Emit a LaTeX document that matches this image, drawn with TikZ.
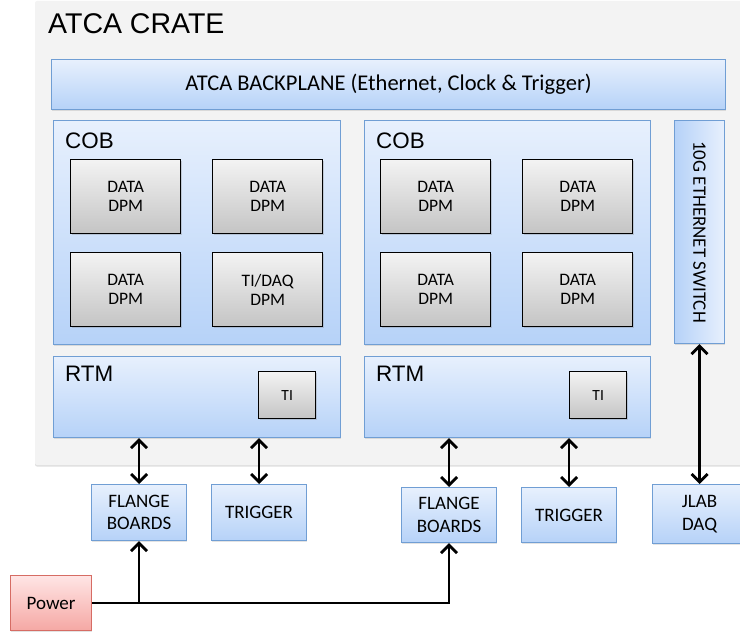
\documentclass[tikz,border=0pt]{standalone}
\usepackage{fontspec}
\usepackage{graphicx}
\setmainfont{Carlito}
\newfontfamily\arialfont{Liberation Sans}
\usetikzlibrary{arrows.meta,shadows}

\definecolor{crateFill}{RGB}{243,243,243}
\definecolor{blueTop}{RGB}{231,240,253}
\definecolor{blueBot}{RGB}{182,210,248}
\definecolor{blueEdge}{RGB}{112,158,212}
\definecolor{grayTop}{RGB}{243,243,243}
\definecolor{grayBot}{RGB}{196,196,196}
\definecolor{redTop}{RGB}{255,229,229}
\definecolor{redBot}{RGB}{245,168,164}
\definecolor{redEdge}{RGB}{214,108,100}

\begin{document}
\begin{tikzpicture}[x=1pt,y=1pt,
  softshadow/.style={drop shadow={shadow xshift=0.8pt,shadow yshift=-1.4pt,opacity=0.22}},
  bluebox/.style={draw=blueEdge, line width=1.1pt, top color=blueTop, bottom color=blueBot,
    inner sep=0pt, anchor=north west, align=center, softshadow},
  dpmbox/.style={draw=black, line width=1.4pt, top color=grayTop, bottom color=grayBot,
    inner sep=0pt, anchor=north west, align=center, minimum width=110pt, minimum height=74pt,
    font=\fontsize{17.5}{19}\selectfont, drop shadow={shadow xshift=1pt,shadow yshift=-1.6pt,opacity=0.3}},
  tibox/.style={dpmbox, minimum width=57pt, minimum height=47pt, font=\fontsize{15.5}{16}\selectfont},
  extbox/.style={bluebox, font=\fontsize{19}{22.5}\selectfont},
  bigtitle/.style={anchor=base west, inner sep=0pt, font=\arialfont\fontsize{22.4}{22}\selectfont},
  conn/.style={line width=2.8pt, line join=miter},
  >={Straight Barb[length=8pt,width=16pt,line width=2.8pt]}
]
\useasboundingbox (0,0) rectangle (740,-634);
\clip (0,0) rectangle (740,-634);

% crate enclosure
\path[fill=crateFill, rounded corners=2pt,
  drop shadow={shadow xshift=0pt,shadow yshift=-1.5pt,opacity=0.25}]
  (35,-1) rectangle (780,-465);
\node[anchor=base west, inner sep=0pt, font=\arialfont\fontsize{28.5}{28}\selectfont]
  (crate) at (48,-34) {ATCA CRATE};

% backplane
\node[bluebox, minimum width=674pt, minimum height=50pt, font=\fontsize{22.5}{24}\selectfont]
  (bp) at (51,-59) {ATCA BACKPLANE (Ethernet, Clock \& Trigger)};

% carrier boards
\node[bluebox, minimum width=287pt, minimum height=224pt] (cobA) at (53,-120) {};
\node[bluebox, minimum width=286pt, minimum height=224pt] (cobB) at (364,-120) {};
\node[bigtitle] (cobAlabel) at (65,-148) {COB};
\node[bigtitle] (cobBlabel) at (376,-148) {COB};

\node[dpmbox] (a1) at (70,-159)  {DATA\\DPM};
\node[dpmbox] (a2) at (212,-159) {DATA\\DPM};
\node[dpmbox] (a3) at (70,-252)  {DATA\\DPM};
\node[dpmbox] (a4) at (212,-252) {TI/DAQ\\DPM};
\node[dpmbox] (b1) at (380,-159) {DATA\\DPM};
\node[dpmbox] (b2) at (522,-159) {DATA\\DPM};
\node[dpmbox] (b3) at (380,-252) {DATA\\DPM};
\node[dpmbox] (b4) at (522,-252) {DATA\\DPM};

% ethernet switch (vertical), shaded from left to right
\node[draw=blueEdge, line width=1.1pt, left color=blueBot, right color=blueTop, inner sep=0pt,
  anchor=north west, minimum width=50pt, minimum height=223pt, softshadow,
  font=\fontsize{19}{20}\selectfont] (sw) at (674,-120) {\rotatebox{-90}{10G ETHERNET SWITCH}};

% rear transition modules
\node[bluebox, minimum width=287pt, minimum height=81pt] (rtmA) at (53,-356) {};
\node[bluebox, minimum width=286pt, minimum height=81pt] (rtmB) at (364,-356) {};
\node[bigtitle] (rtmAlabel) at (65,-381) {RTM};
\node[bigtitle] (rtmBlabel) at (376,-381) {RTM};
\node[tibox] (tiA) at (258,-371) {TI};
\node[tibox] (tiB) at (569,-371) {TI};

% external boards
\node[extbox, minimum width=95pt, minimum height=56pt] (flA) at (91,-484)  {FLANGE\\BOARDS};
\node[extbox, minimum width=95pt, minimum height=56pt] (trA) at (211,-484) {TRIGGER};
\node[extbox, minimum width=95pt, minimum height=55pt] (flB) at (401,-487) {FLANGE\\BOARDS};
\node[extbox, minimum width=95pt, minimum height=55pt] (trB) at (521,-487) {TRIGGER};
\node[extbox, minimum width=94pt, minimum height=59pt] (jlab) at (652,-484) {JLAB\\DAQ};
\node[draw=redEdge, line width=1.1pt, top color=redTop, bottom color=redBot, inner sep=0pt,
  anchor=north west, minimum width=81pt, minimum height=55pt, softshadow,
  font=\fontsize{19}{22}\selectfont] (pw) at (10,-575) {Power};

% links
\draw[conn,<->] (flA.north) -- (flA.north |- rtmA.south);
\draw[conn,<->] (trA.north) -- (trA.north |- rtmA.south);
\draw[conn,<->] (flB.north) -- (flB.north |- rtmB.south);
\draw[conn,<->] (trB.north) -- (trB.north |- rtmB.south);
\draw[conn,<->] (jlab.north) -- (jlab.north |- sw.south);

% power distribution
\draw[conn,->] (pw.east) -| (flB.south);
\draw[conn,->] (pw.east -| flA.south) -- (flA.south);
\end{tikzpicture}
\end{document}
